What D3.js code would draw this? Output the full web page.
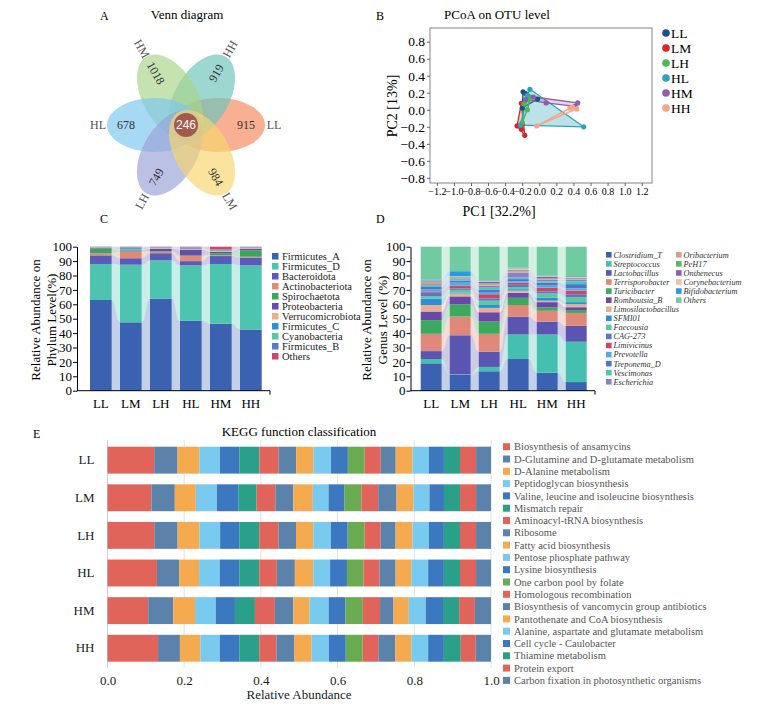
<!DOCTYPE html>
<html>
<head>
<meta charset="utf-8">
<script src="https://cdn.jsdelivr.net/npm/d3@7"></script>
<style>
  body { margin: 0; background: #fff; }
  svg { font-family: "Liberation Serif", "Times New Roman", serif; }
</style>
</head>
<body>
<svg id="fig" width="767" height="705"></svg>
<script>
// ---------- data ----------
const groups = ["LL", "LM", "LH", "HL", "HM", "HH"];

// Venn petals (clockwise from the right) and their unique OTU counts
const vennSets = ["LL", "HH", "HM", "HL", "LH", "LM"];
const vennUnique = [915, 919, 1018, 678, 749, 984];
const vennShared = 246;

// PCoA sample coordinates [PC1, PC2]
const pcoaLL = [[-0.19, 0.21], [-0.16, 0.19], [-0.02, 0.125], [-0.2, 0.02]];
const pcoaLM = [[-0.21, 0.075], [-0.26, -0.19], [-0.21, -0.23], [-0.17, -0.3], [-0.2, -0.17]];
const pcoaLH = [[-0.1, 0.15], [-0.18, 0.07], [-0.14, 0.0], [-0.2, -0.15], [-0.13, 0.12]];
const pcoaHL = [[-0.11, 0.24], [0.52, -0.2], [-0.22, -0.18], [-0.14, 0.17]];
const pcoaHM = [[-0.16, 0.12], [0.08, 0.08], [0.45, 0.08], [0.42, 0.04], [-0.07, 0.15]];
const pcoaHH = [[-0.03, -0.19], [0.36, 0.02], [0.44, 0.01], [0.39, 0.03]];
const pcoaTicksX = [-1.2, -1.0, -0.8, -0.6, -0.4, -0.2, 0.0, 0.2, 0.4, 0.6, 0.8, 1.0, 1.2];
const pcoaTicksY = [-0.8, -0.6, -0.4, -0.2, 0.0, 0.2, 0.4, 0.6, 0.8];

// Phylum level relative abundance (%), one row per group
const phyla = ["Firmicutes_A", "Firmicutes_D", "Bacteroidota", "Actinobacteriota", "Spirochaetota",
  "Proteobacteria", "Verrucomicrobiota", "Firmicutes_C", "Cyanobacteria", "Firmicutes_B", "Others"];
const phylumShares = [
  [63, 25, 6, 1.5, 3, 0.5, 0.3, 0.2, 0.2, 0.1, 0.2],
  [47.5, 40, 4.5, 4.5, 0.5, 0.5, 0.5, 1, 0.3, 0.3, 0.4],
  [64, 26.5, 5, 1, 0.5, 1.5, 0.5, 0.3, 0.2, 0.2, 0.3],
  [48.5, 38.5, 3, 3.5, 0.5, 4, 0.5, 0.5, 0.3, 0.3, 0.4],
  [46.5, 41.5, 5.5, 0.5, 1.5, 1, 0.5, 0.5, 0.3, 0.2, 2],
  [42.5, 44.5, 5.5, 0.5, 4.5, 1, 0.5, 0.3, 0.2, 0.2, 0.3]
];

// Genus level relative abundance (%)
const genera = ["Clostridium_T", "Streptococcus", "Lactobacillus", "Terrisporobacter", "Turicibacter",
  "Romboutsia_B", "Limosilactobacillus", "SFMI01", "Faecousia", "CAG-273", "Limivicinus", "Prevotella",
  "Treponema_D", "Vescimonas", "Escherichia", "Oribacterium", "PeH17", "Onthenecus", "Corynebacterium",
  "Bifidobacterium", "Others"];
const genusShares = [
  [19, 3, 5.5, 12, 9.5, 6, 4.5, 4.5, 1.5, 2.5, 1, 1.5, 1.5, 1, 1, 1, 0.5, 0.5, 0.5, 0.5, 23],
  [11, 0.3, 27.2, 13, 8.5, 5.5, 2, 0.5, 2, 1, 2, 2.5, 1, 1, 0.5, 0.5, 0.5, 0.3, 0.3, 3.4, 17],
  [13.5, 3, 10.5, 12.5, 8.5, 6.5, 3, 2, 3, 1.5, 3, 1.5, 1.5, 1.5, 1.5, 1, 0.5, 1, 0.5, 0.5, 23.5],
  [22, 17, 12.5, 8, 5, 3.5, 1.5, 1, 1.5, 1.5, 1.5, 1, 1.5, 1, 3.5, 1, 0.5, 0.5, 1, 0.5, 14.5],
  [12.5, 26.5, 9, 7.5, 2.5, 3.5, 1, 2, 3, 1.5, 2.5, 1.5, 2, 1, 1, 0.5, 0.5, 1, 0.5, 0.3, 20.2],
  [6, 28, 11, 9, 2, 2, 2, 1.5, 3.5, 2, 2.5, 1.5, 3, 2, 1, 0.5, 0.5, 0.5, 0.5, 0.5, 20.5]
];

// KEGG pathways and their relative abundance per group
const pathways = ["Biosynthesis of ansamycins", "D-Glutamine and D-glutamate metabolism", "D-Alanine metabolism",
  "Peptidoglycan biosynthesis", "Valine, leucine and isoleucine biosynthesis", "Mismatch repair",
  "Aminoacyl-tRNA biosynthesis", "Ribosome", "Fatty acid biosynthesis", "Pentose phosphate pathway",
  "Lysine biosynthesis", "One carbon pool by folate", "Homologous recombination",
  "Biosynthesis of vancomycin group antibiotics", "Pantothenate and CoA biosynthesis",
  "Alanine, aspartate and glutamate metabolism", "Cell cycle - Caulobacter", "Thiamine metabolism",
  "Protein export", "Carbon fixation in photosynthetic organisms"];
const keggShares = [
  [0.122, 0.061, 0.057, 0.054, 0.051, 0.052, 0.050, 0.046, 0.045, 0.046, 0.044, 0.044, 0.042, 0.039, 0.044, 0.043, 0.039, 0.042, 0.042, 0.039],
  [0.115, 0.061, 0.055, 0.055, 0.056, 0.048, 0.049, 0.047, 0.051, 0.041, 0.042, 0.044, 0.044, 0.048, 0.044, 0.042, 0.038, 0.042, 0.042, 0.039],
  [0.122, 0.061, 0.057, 0.054, 0.050, 0.052, 0.050, 0.046, 0.045, 0.046, 0.044, 0.044, 0.042, 0.039, 0.044, 0.043, 0.039, 0.042, 0.042, 0.039],
  [0.129, 0.058, 0.052, 0.054, 0.051, 0.052, 0.046, 0.047, 0.048, 0.044, 0.044, 0.043, 0.042, 0.042, 0.041, 0.044, 0.041, 0.042, 0.042, 0.039],
  [0.106, 0.065, 0.057, 0.054, 0.050, 0.052, 0.052, 0.048, 0.042, 0.050, 0.044, 0.045, 0.045, 0.035, 0.040, 0.044, 0.045, 0.042, 0.041, 0.042],
  [0.132, 0.057, 0.054, 0.050, 0.051, 0.052, 0.045, 0.046, 0.046, 0.045, 0.044, 0.044, 0.041, 0.044, 0.042, 0.044, 0.041, 0.044, 0.039, 0.040]
];
const keggTicks = [0, 0.2, 0.4, 0.6, 0.8, 1.0];

// ---------- colours ----------
const vennColors = ["#f4895e", "#6dc6b9", "#a9d48b", "#7dc7ef", "#9aa3d8", "#f6d66f"];
const groupColors = ["#1f4e8c", "#d62728", "#4db84d", "#2aa5b8", "#8e5fa8", "#f4a58a"];
const phylumColors = ["#3a62b0", "#4dc4b0", "#5a5ab8", "#e08a78", "#3aa65a", "#6a4aaa",
  "#e8b090", "#2a90d8", "#5ac8a0", "#5a7ac8", "#c84a6a"];
const genusColors = ["#3a62b0", "#45c0b0", "#5a55b0", "#e0887a", "#3caa5c", "#6a48a8", "#e8b092",
  "#2a8ed8", "#5ac8a0", "#5a78c8", "#c84868", "#5aa8e0", "#4a78c8", "#48c8b8", "#8a80c8",
  "#e09a8a", "#5ab86a", "#8a60b0", "#f0c0a8", "#2a9ae0", "#70cca0"];
const keggPalette = {r: "#e0645a", s: "#5a82aa", o: "#f5aa50", l: "#78cbee", b: "#3c78c0", t: "#2aa08a", g: "#6aaa50"};
const keggColors = "rsolbtrsolbgrsolbtrs".split("").map(k => keggPalette[k]);

const svg = d3.select("#fig");
svg.append("rect").attr("width", 767).attr("height", 705).attr("fill", "#fff");

// panel letters
[["A", 100, 20], ["B", 376, 20], ["C", 100, 223], ["D", 376, 223], ["E", 33, 438]].forEach(([t, x, y]) => {
  svg.append("text").attr("x", x).attr("y", y).attr("font-size", 12).text(t);
});

// ---------- A: Venn ----------
svg.append("text").attr("x", 187).attr("y", 19).attr("text-anchor", "middle")
  .attr("font-size", 13).text("Venn diagram");

const vc = [186, 125];
const petalAngle = [0, -60, -120, 180, 120, 60];
const numRot = [0, -60, 60, 0, -60, 60];
const labRot = [0, -60, 60, 0, -60, 60];
const venn = svg.append("g").attr("transform", `translate(${vc[0]},${vc[1]})`);

vennSets.forEach((s, i) => {
  venn.append("ellipse")
    .attr("cx", 32).attr("cy", 0).attr("rx", 47).attr("ry", 27)
    .attr("transform", `rotate(${petalAngle[i]})`)
    .attr("fill", vennColors[i]).attr("fill-opacity", 0.68);
});
venn.append("circle").attr("r", 12).attr("fill", "#a4594a");
venn.append("text").attr("text-anchor", "middle").attr("dy", "0.35em")
  .attr("font-size", 12).attr("fill", "#fff").attr("font-family", "Liberation Sans, Arial")
  .text(vennShared);

vennSets.forEach((s, i) => {
  const a = petalAngle[i] * Math.PI / 180;
  const nd = 60, ld = 88;
  venn.append("text")
    .attr("transform", `translate(${nd * Math.cos(a)},${nd * Math.sin(a)}) rotate(${numRot[i]})`)
    .attr("text-anchor", "middle").attr("dy", "0.35em").attr("font-size", 12).attr("fill", "#333")
    .text(vennUnique[i]);
  venn.append("text")
    .attr("transform", `translate(${ld * Math.cos(a)},${ld * Math.sin(a)}) rotate(${labRot[i]})`)
    .attr("text-anchor", "middle").attr("dy", "0.35em").attr("font-size", 12).attr("fill", "#555")
    .text(s);
});

// ---------- B: PCoA ----------
svg.append("text").attr("x", 497).attr("y", 19).attr("text-anchor", "middle")
  .attr("font-size", 13).text("PCoA on OTU level");

const px = d3.scaleLinear().domain([-1.28, 1.32]).range([430, 652]);
const py = d3.scaleLinear().domain([-0.86, 0.96]).range([183, 28]);

svg.append("rect").attr("x", 430).attr("y", 28).attr("width", 222).attr("height", 155)
  .attr("fill", "none").attr("stroke", "#666").attr("stroke-width", 0.8);

const bY = svg.append("g").attr("transform", "translate(430,0)")
  .call(d3.axisLeft(py).tickValues(pcoaTicksY).tickFormat(d3.format(".1f")).tickSize(3).tickPadding(2));
bY.select(".domain").remove();
bY.selectAll("text").attr("font-size", 13.5).attr("font-family", "Liberation Serif");
bY.selectAll("line").attr("stroke", "#666");

const bX = svg.append("g").attr("transform", "translate(0,183)")
  .call(d3.axisBottom(px).tickValues(pcoaTicksX).tickFormat(d3.format(".1f")).tickSize(3).tickPadding(2));
bX.select(".domain").remove();
bX.selectAll("text").attr("font-size", 10).attr("font-family", "Liberation Serif");
bX.selectAll("line").attr("stroke", "#666");

svg.append("text").attr("x", 499).attr("y", 216).attr("text-anchor", "middle")
  .attr("font-size", 14).text("PC1 [32.2%]");
svg.append("text").attr("transform", "translate(397,106) rotate(-90)").attr("text-anchor", "middle")
  .attr("font-size", 14).text("PC2 [13%]");

const pcoaSets = [pcoaLL, pcoaLM, pcoaLH, pcoaHL, pcoaHM, pcoaHH];
const hulls = svg.append("g");
pcoaSets.forEach((pts, i) => {
  const hull = d3.polygonHull(pts.map(p => [px(p[0]), py(p[1])]));
  hulls.append("path").attr("d", "M" + hull.join("L") + "Z")
    .attr("fill", groupColors[i]).attr("fill-opacity", i === 3 ? 0.32 : 0.25)
    .attr("stroke", groupColors[i]).attr("stroke-width", 1.3).attr("stroke-linejoin", "round");
});
pcoaSets.forEach((pts, i) => {
  hulls.selectAll(null).data(pts).enter().append("circle")
    .attr("cx", p => px(p[0])).attr("cy", p => py(p[1])).attr("r", 2.6)
    .attr("fill", groupColors[i]);
});

groups.forEach((gname, i) => {
  const y = 33 + i * 15;
  svg.append("circle").attr("cx", 666).attr("cy", y).attr("r", 3.8).attr("fill", groupColors[i]);
  svg.append("text").attr("x", 671).attr("y", y).attr("dy", "0.35em")
    .attr("font-size", 13.5).text(gname);
});

// ---------- C & D: stacked bars with connecting bands ----------
function stackedPanel(opts) {
  const rows = groups.map((gname, i) => {
    const o = {group: gname};
    opts.names.forEach((n, j) => { o[n] = opts.shares[i][j]; });
    return o;
  });
  const series = d3.stack().keys(opts.names)(rows);
  const x = d3.scaleBand().domain(groups).range(opts.barRange).paddingInner(0.277).paddingOuter(0);
  const y = d3.scaleLinear().domain([0, 100]).range([390.7, 246.7]);
  const g = svg.append("g");

  series.forEach((s, k) => {
    for (let i = 0; i < groups.length - 1; i++) {
      const a = s[i], b = s[i + 1];
      const x0 = x(groups[i]) + x.bandwidth(), x1 = x(groups[i + 1]), xm = (x0 + x1) / 2;
      g.append("path")
        .attr("d", `M${x0},${y(a[1])}C${xm},${y(a[1])} ${xm},${y(b[1])} ${x1},${y(b[1])}` +
          `L${x1},${y(b[0])}C${xm},${y(b[0])} ${xm},${y(a[0])} ${x0},${y(a[0])}Z`)
        .attr("fill", opts.colors[k]).attr("fill-opacity", 0.3);
    }
  });
  series.forEach((s, k) => {
    g.selectAll(null).data(s).enter().append("rect")
      .attr("x", d => x(d.data.group)).attr("width", x.bandwidth())
      .attr("y", d => y(d[1])).attr("height", d => Math.max(0, y(d[0]) - y(d[1])))
      .attr("fill", opts.colors[k]);
  });

  const ay = g.append("g").attr("transform", `translate(${opts.axisX},0)`)
    .call(d3.axisLeft(y).tickValues(d3.range(0, 101, 10)).tickSize(4).tickSizeOuter(0).tickPadding(1));
  ay.selectAll("text").attr("font-size", 13).attr("font-family", "Liberation Serif");
  g.append("line").attr("x1", opts.axisX).attr("x2", opts.axisEnd)
    .attr("y1", 390.7).attr("y2", 390.7).attr("stroke", "#000");
  g.append("line").attr("x1", opts.axisEnd).attr("x2", opts.axisEnd)
    .attr("y1", 390.7).attr("y2", 394.7).attr("stroke", "#000");
  const ax = g.append("g").attr("transform", "translate(0,390.7)")
    .call(d3.axisBottom(x).tickSize(0).tickPadding(8));
  ax.select(".domain").remove();
  ax.selectAll("text").attr("font-size", 13).attr("font-family", "Liberation Serif");

  g.append("text").attr("transform", `translate(${opts.labelX},320) rotate(-90)`)
    .attr("text-anchor", "middle").attr("font-size", 13).text("Relative Abundance on");
  g.append("text").attr("transform", `translate(${opts.labelX + 16},320) rotate(-90)`)
    .attr("text-anchor", "middle").attr("font-size", 13).text(opts.label2);
  return g;
}

stackedPanel({names: phyla, shares: phylumShares, colors: phylumColors,
  barRange: [90, 261.7], axisX: 77, axisEnd: 270, labelX: 40, label2: "Phylum Level(%)"});
stackedPanel({names: genera, shares: genusShares, colors: genusColors,
  barRange: [420.7, 586.7], axisX: 410.5, axisEnd: 595, labelX: 371, label2: "Genus Level (%)"});

// legend C
phyla.forEach((n, i) => {
  const y = 256.5 + i * 10;
  svg.append("rect").attr("x", 272).attr("y", y - 3.5).attr("width", 6.5).attr("height", 6.5)
    .attr("fill", phylumColors[i]);
  svg.append("text").attr("x", 282).attr("y", y).attr("dy", "0.35em")
    .attr("font-size", 10.5).attr("fill", "#222").text(n);
});
// legend D
genera.forEach((n, i) => {
  const col = i < 15 ? 0 : 1, row = i < 15 ? i : i - 15;
  const x = col ? 676 : 606, y = 254.8 + row * 9.07;
  svg.append("rect").attr("x", x).attr("y", y - 2.8).attr("width", 5.6).attr("height", 5.6)
    .attr("fill", genusColors[i]);
  svg.append("text").attr("x", x + 7.5).attr("y", y).attr("dy", "0.35em")
    .attr("font-size", 8.3).attr("font-style", "italic").attr("fill", "#333").text(n);
});

// ---------- E: KEGG ----------
svg.append("text").attr("x", 299).attr("y", 436).attr("text-anchor", "middle")
  .attr("font-size", 13).text("KEGG function classification");

const ex = d3.scaleLinear().domain([0, 1]).range([107.5, 491]);
const ey = d3.scaleBand().domain(groups).range([446.7, 661.7]).paddingInner(0.285).paddingOuter(0);

const eg = svg.append("g");
eg.selectAll(".grid").data(keggTicks.slice(1)).enter().append("line")
  .attr("x1", d => ex(d)).attr("x2", d => ex(d)).attr("y1", 440).attr("y2", 668)
  .attr("stroke", "#e2e2e2");
eg.append("line").attr("x1", ex(0)).attr("x2", ex(0)).attr("y1", 440).attr("y2", 668)
  .attr("stroke", "#cfcfcf");

const keggRows = groups.map((gname, i) => {
  const tot = d3.sum(keggShares[i]);
  const o = {group: gname};
  pathways.forEach((p, j) => { o[p] = keggShares[i][j] / tot; });
  return o;
});
const keggSeries = d3.stack().keys(pathways)(keggRows);
keggSeries.forEach((s, k) => {
  eg.selectAll(null).data(s).enter().append("rect")
    .attr("y", d => ey(d.data.group)).attr("height", ey.bandwidth())
    .attr("x", d => ex(d[0])).attr("width", d => ex(d[1]) - ex(d[0]))
    .attr("fill", keggColors[k]);
});

const eX = eg.append("g").attr("transform", "translate(0,668)")
  .call(d3.axisBottom(ex).tickValues(keggTicks).tickFormat(d3.format(".1f")).tickSize(0).tickPadding(8));
eX.select(".domain").remove();
eX.selectAll("text").attr("font-size", 13).attr("font-family", "Liberation Serif").attr("fill", "#222");
const eY = eg.append("g").attr("transform", "translate(107.5,0)")
  .call(d3.axisLeft(ey).tickSize(0).tickPadding(13));
eY.select(".domain").remove();
eY.selectAll("text").attr("font-size", 13).attr("font-family", "Liberation Serif").attr("fill", "#222");
svg.append("text").attr("x", 299).attr("y", 699).attr("text-anchor", "middle")
  .attr("font-size", 13).attr("fill", "#222").text("Relative Abundance");

pathways.forEach((p, i) => {
  const y = 446.7 + i * 12.3;
  svg.append("rect").attr("x", 503).attr("y", y - 3.5).attr("width", 7).attr("height", 7)
    .attr("fill", keggColors[i]);
  svg.append("text").attr("x", 514).attr("y", y).attr("dy", "0.35em")
    .attr("font-size", 10.5).attr("fill", "#555").text(p);
});
</script>
</body>
</html>
